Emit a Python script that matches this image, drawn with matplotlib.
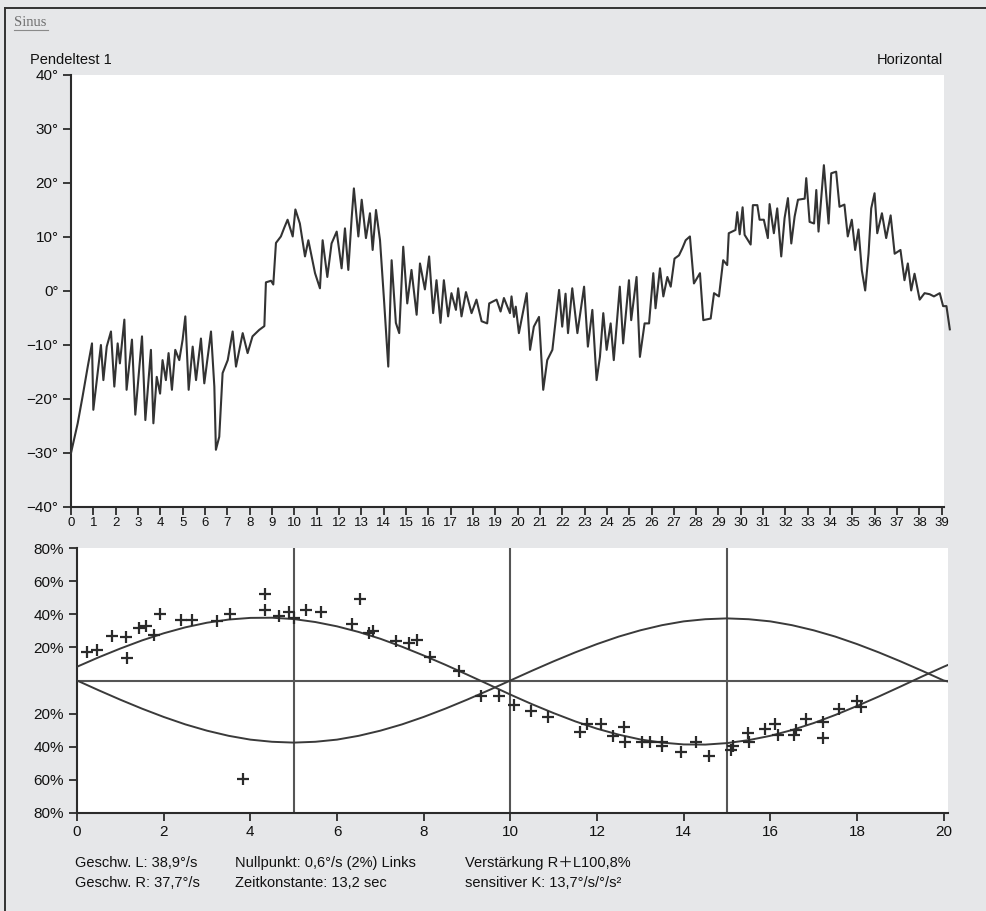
import numpy as np
import matplotlib.pyplot as plt
from matplotlib.lines import Line2D

plt.rcParams['font.family'] = ['Liberation Sans', 'DejaVu Sans']

# pendulum test trace (time in s, angle in degrees)
trace_t = [0.0, 0.3, 0.52, 0.75, 0.94, 1.0, 1.19, 1.34, 1.45, 1.6, 1.79, 1.94, 2.09, 2.19,
           2.39, 2.49, 2.73, 2.88, 3.18, 3.33, 3.58, 3.69, 3.84, 3.99, 4.1, 4.25, 4.37, 4.52,
           4.67, 4.85, 5.0, 5.12, 5.27, 5.45, 5.6, 5.82, 5.97, 6.27, 6.42, 6.49, 6.64, 6.79,
           7.02, 7.24, 7.39, 7.69, 7.91, 8.13, 8.43, 8.66, 8.73, 8.96, 9.06, 9.18, 9.4, 9.55,
           9.7, 9.93, 10.05, 10.25, 10.48, 10.63, 10.93, 11.15, 11.27, 11.48, 11.67, 11.9,
           12.12, 12.27, 12.42, 12.57, 12.67, 12.87, 13.02, 13.21, 13.39, 13.51, 13.66, 13.84,
           14.02, 14.21, 14.36, 14.55, 14.7, 14.88, 15.06, 15.25, 15.48, 15.63, 15.85, 16.04,
           16.22, 16.37, 16.55, 16.7, 16.89, 17.04, 17.24, 17.34, 17.49, 17.69, 17.94, 18.16,
           18.39, 18.64, 18.73, 19.06, 19.24, 19.39, 19.66, 19.73, 19.84, 19.92, 20.06, 20.41,
           20.56, 20.73, 20.96, 21.15, 21.33, 21.56, 21.86, 22.0, 22.15, 22.26, 22.45, 22.68,
           22.98, 23.15, 23.35, 23.54, 23.69, 23.84, 23.99, 24.17, 24.31, 24.58, 24.73, 24.99,
           25.09, 25.33, 25.48, 25.69, 25.89, 26.08, 26.18, 26.38, 26.53, 26.71, 26.86, 27.03,
           27.23, 27.38, 27.53, 27.72, 27.9, 28.17, 28.32, 28.65, 28.8, 29.02, 29.21, 29.39,
           29.46, 29.76, 29.84, 29.95, 30.08, 30.17, 30.44, 30.54, 30.74, 30.84, 31.03, 31.21,
           31.29, 31.48, 31.63, 31.81, 31.96, 32.11, 32.26, 32.41, 32.56, 32.86, 32.93, 33.08,
           33.28, 33.38, 33.48, 33.72, 33.82, 33.93, 34.05, 34.27, 34.42, 34.64, 34.79, 34.97,
           35.12, 35.27, 35.42, 35.57, 35.72, 35.84, 35.99, 36.11, 36.32, 36.51, 36.71, 36.89,
           37.15, 37.33, 37.48, 37.63, 37.78, 38.01, 38.23, 38.46, 38.65, 38.91, 39.06, 39.21,
           39.36]
trace_deg = [-30.0, -24.5, -19.5, -14.0, -9.7, -22.0, -15.2, -10.0, -16.5, -10.3, -7.5, -17.7,
             -9.7, -13.4, -5.3, -18.3, -9.0, -22.9, -8.4, -23.9, -10.9, -24.5, -15.9, -19.0,
             -12.8, -16.5, -11.5, -18.3, -10.9, -12.8, -9.0, -4.7, -18.3, -10.3, -16.5, -8.8,
             -17.1, -7.5, -17.7, -29.4, -27.0, -15.2, -12.8, -7.5, -14.0, -7.8, -11.5, -8.4,
             -7.2, -6.5, 1.6, 1.9, 1.2, 8.9, 10.1, 11.7, 13.2, 10.1, 15.1, 12.5, 6.4, 9.4,
             3.3, 0.5, 9.4, 2.6, 8.8, 11.0, 4.2, 11.6, 3.9, 13.5, 19.0, 10.1, 16.9, 9.8,
             14.4, 7.6, 15.0, 9.4, -1.7, -14.0, 5.7, -5.9, -7.8, 8.2, -2.3, 3.9, -4.4, 5.1,
             0.3, 6.4, -4.1, 2.0, -5.9, 2.0, -4.7, -0.4, -3.5, 0.5, -4.7, -0.2, -4.1, -1.6,
             -5.6, -6.0, -2.3, -1.6, -3.8, -1.3, -4.1, -1.0, -4.8, -2.9, -7.8, -0.4,
             -10.9, -6.6, -4.8, -18.3, -12.8, -10.9, 0.2, -6.6, -0.5, -7.8, 0.5, -7.8,
             0.8, -10.3, -3.5, -16.5, -12.2, -4.1, -10.9, -6.0, -12.8, 0.8, -9.7, 2.0,
             -5.4, 2.6, -12.2, -6.0, -6.0, 3.3, -3.2, 4.2, -1.0, 2.6, 0.8, 6.0,
             6.6, 7.9, 9.4, 10.1, 1.4, 3.3, -5.4, -5.1, -0.4, -1.0, 5.7, 4.8,
             10.7, 11.3, 14.6, 10.5, 15.5, 10.4, 8.6, 15.9, 15.9, 13.2, 13.2, 9.8,
             16.1, 10.7, 15.3, 6.4, 13.5, 17.2, 8.8, 13.8, 16.9, 17.1, 20.9, 12.8,
             12.5, 18.7, 11.0, 23.3, 18.1, 12.5, 21.8, 22.1, 15.6, 16.0, 10.1, 13.2,
             7.6, 11.4, 3.8, 0.1, 6.9, 15.3, 18.1, 10.7, 14.4, 9.8, 14.0, 6.9,
             7.6, 2.0, 5.1, 0.1, 3.2, -1.6, -0.4, -0.6, -1.0, -0.4, -2.8, -2.8,
             -7.1]

top_xticks = list(range(0, 40))
top_yticks = [-40, -30, -20, -10, 0, 10, 20, 30, 40]
top_ylabels = ['\u221240°', '\u221230°', '\u221220°', '\u221210°', '0°', '10°', '20°', '30°', '40°']

# sine analysis (time in s, response in %)
sine_x = [0.0, 0.5, 1.0, 1.5, 2.0, 2.5, 3.0, 3.5, 4.0, 4.5, 5.0, 5.5, 6.0, 6.5, 7.0, 7.5,
          8.0, 8.5, 9.0, 9.5, 10.0, 10.5, 11.0, 11.5, 12.0, 12.5, 13.0, 13.5, 14.0, 14.5,
          15.0, 15.5, 16.0, 16.5, 17.0, 17.5, 18.0, 18.5, 19.0, 19.5, 20.0, 20.1]
stimulus = [0.0, -5.9, -11.6, -17.0, -22.0, -26.5, -30.3, -33.4, -35.7, -37.0, -37.5, -37.0,
            -35.7, -33.4, -30.3, -26.5, -22.0, -17.0, -11.6, -5.9, 0.0, 5.9, 11.6, 17.0, 22.0,
            26.5, 30.3, 33.4, 35.7, 37.0, 37.5, 37.0, 35.7, 33.4, 30.3, 26.5, 22.0, 17.0, 11.6,
            5.9, 0.0, -0.6]
fit = [8.3, 14.0, 19.3, 24.2, 28.5, 32.1, 34.9, 36.8, 37.8, 37.9, 37.1, 35.3, 32.7, 29.3,
       25.2, 20.4, 15.1, 9.5, 3.6, -2.4, -8.5, -14.3, -19.7, -24.7, -29.1, -32.7, -35.6,
       -37.5, -38.6, -38.7, -37.8, -36.0, -33.4, -29.9, -25.7, -20.8, -15.4, -9.7, -3.7,
       2.4, 8.3, 9.4]

resp_x = [0.23, 0.45, 0.81, 1.13, 1.15, 1.42, 1.6, 1.77, 1.92, 2.39, 2.66, 3.24, 3.53, 3.82,
          4.33, 4.33, 4.67, 4.9, 5.0, 5.29, 5.62, 6.34, 6.54, 6.73, 6.83, 7.36, 7.67, 7.85,
          8.15, 8.82, 9.33, 9.73, 10.08, 10.47, 10.88, 11.6, 11.77, 12.1, 12.36, 12.63, 12.65,
          13.04, 13.23, 13.49, 13.5, 13.94, 14.29, 14.58, 15.1, 15.14, 15.48, 15.5, 15.87,
          16.1, 16.18, 16.55, 16.59, 16.82, 17.21, 17.21, 17.58, 17.99, 18.09]
resp_y = [17.5, 18.6, 26.6, 26.2, 13.8, 31.8, 33.0, 27.6, 40.2, 36.5, 36.5, 36.1, 40.0, -59.4,
          52.0, 42.7, 39.0, 41.6, 37.5, 42.3, 41.6, 34.4, 49.3, 28.7, 29.9, 24.1, 22.7, 24.5,
          14.4, 5.6, -9.3, -9.3, -14.6, -18.6, -22.3, -30.9, -26.4, -26.4, -33.6, -27.8, -37.1,
          -37.1, -37.1, -37.3, -39.8, -42.9, -37.1, -45.6, -41.9, -39.8, -31.5, -37.3, -29.5,
          -26.0, -33.2, -33.2, -29.9, -23.3, -24.9, -34.6, -17.1, -12.6, -16.1]

bot_yticks = [-80, -60, -40, -20, 20, 40, 60, 80]
bot_ylabels = ['80%', '60%', '40%', '20%', '20%', '40%', '60%', '80%']
bot_xticks = [0, 2, 4, 6, 8, 10, 12, 14, 16, 18, 20]
marker_lines = [5, 10, 15]

footer = [
    ('Geschw. L: 38,9°/s', 'Geschw. R: 37,7°/s'),
    ('Nullpunkt: 0,6°/s (2%) Links', 'Zeitkonstante: 13,2 sec'),
    ('Verstärkung R\uff0bL100,8%', 'sensitiver K: 13,7°/s/°/s²'),
]
footer_x = [75, 235, 465]

W, H = 986, 911
bg = '#e6e7e9'
ink = '#2b2b2b'

fig = plt.figure(figsize=(W / 100, H / 100), dpi=100, facecolor=bg)

def fx(px):
    return px / W

def fy(py):
    return 1 - py / H

# outer frame, top and left edge
fig.add_artist(Line2D([fx(5), 1], [fy(8), fy(8)], color='#333333', lw=1.4))
fig.add_artist(Line2D([fx(5), fx(5)], [fy(8), 0], color='#333333', lw=1.4))

fig.text(fx(14), fy(23), 'Sinus', family='Liberation Serif', fontsize=10.5,
         color='#5a5a5a', va='center', ha='left', alpha=0.85)
fig.add_artist(Line2D([fx(14), fx(48)], [fy(30), fy(30)], color='#8a8a8a', lw=0.8))
fig.text(fx(30), fy(60), 'Pendeltest 1', fontsize=10.5, color='#111111', va='center')
fig.text(fx(943), fy(60), 'Horizontal', fontsize=10.5, color='#111111', va='center', ha='right')

def style(ax):
    ax.set_facecolor('white')
    for s in ['top', 'right']:
        ax.spines[s].set_visible(False)
    for s in ['left', 'bottom']:
        ax.spines[s].set_color(ink)
        ax.spines[s].set_linewidth(1.5)
    ax.tick_params(direction='out', length=6, width=1.3, color=ink, labelcolor='#111111')

# top panel: angle trace
ax1 = fig.add_axes([fx(71), fy(507), fx(944) - fx(71), fy(75) - fy(507)])
style(ax1)
ax1.plot(trace_t, trace_deg, color='#333333', lw=1.5, clip_on=False, zorder=3)
ax1.set_xlim(0, 39.1)
ax1.set_ylim(-40, 40)
ax1.set_xticks(top_xticks)
ax1.set_xticklabels([str(v) for v in top_xticks], fontsize=9.5)
ax1.set_yticks(top_yticks)
ax1.set_yticklabels(top_ylabels, fontsize=11)
ax1.tick_params(axis='x', pad=1)
ax1.tick_params(axis='y', pad=3)

# bottom panel: sine fit
ax2 = fig.add_axes([fx(77), fy(813), fx(948) - fx(77), fy(548) - fy(813)])
style(ax2)
ax2.set_xlim(0, 20.1)
ax2.set_ylim(-80, 80)
ax2.axhline(0, color='#555555', lw=1.5, zorder=2)
for xv in marker_lines:
    ax2.axvline(xv, color='#555555', lw=1.5, zorder=2)
ax2.plot(sine_x, stimulus, color='#3a3a3a', lw=1.4, zorder=3)
ax2.plot(sine_x, fit, color='#3a3a3a', lw=1.4, zorder=3)
ax2.plot(resp_x, resp_y, linestyle='none', marker='+', markersize=9, mew=1.6,
         color='#2a2a2a', zorder=4)
ax2.set_xticks(bot_xticks)
ax2.set_xticklabels([str(v) for v in bot_xticks], fontsize=11)
ax2.set_yticks(bot_yticks)
ax2.set_yticklabels(bot_ylabels, fontsize=11)
ax2.tick_params(axis='x', pad=3)

for (l1, l2), x in zip(footer, footer_x):
    fig.text(fx(x), fy(863), l1, fontsize=10.5, color='#111111', va='center',
             family=['Liberation Sans', 'Noto Sans CJK JP', 'DejaVu Sans'])
    fig.text(fx(x), fy(883), l2, fontsize=10.5, color='#111111', va='center',
             family=['Liberation Sans', 'Noto Sans CJK JP', 'DejaVu Sans'])

fig.savefig('out.png', dpi=100, facecolor=bg)
